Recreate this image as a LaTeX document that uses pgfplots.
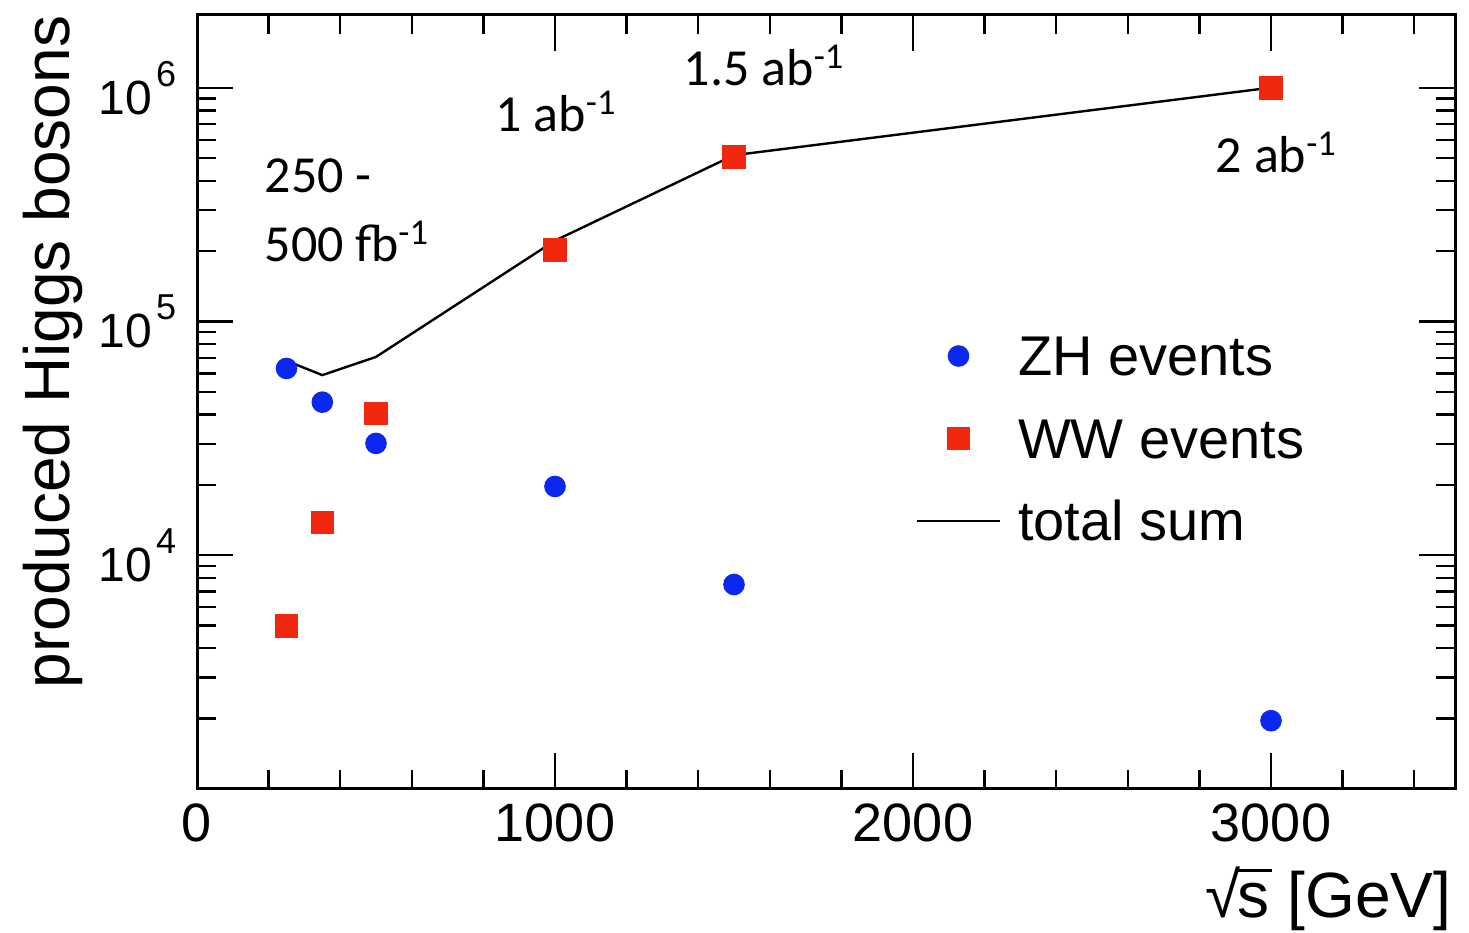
\documentclass[border=0pt]{standalone}
\usepackage{pgfplots}
\pgfplotsset{compat=1.18}
\usepackage{fontspec}
\setmainfont{Liberation Sans}
\newfontfamily\calibri{Carlito}
\definecolor{zhblue}{RGB}{10,40,240}
\definecolor{wwred}{RGB}{240,40,15}
\newcommand\ylab[1]{10\hspace{1bp}\raisebox{7bp}{\fontsize{9bp}{9bp}\selectfont #1}}
\newcommand\ann[1]{{\calibri\fontsize{13bp}{15bp}\selectfont #1}}
\newcommand\rs{\mbox{√\kern-0.6bp\rlap{\rule[11.3bp]{8.6bp}{0.8bp}}s}}
\begin{document}
\begin{tikzpicture}
\useasboundingbox (-49.25bp,-36bp) rectangle (318bp,197.25bp);
\begin{axis}[
  at={(0,0)}, anchor=south west,
  scale only axis, width=314.5bp, height=193.5bp,
  xmin=0, xmax=3514, ymode=log, ymin=1000, ymax=2.05e6,
  axis line style={line width=0.75bp},
  every tick/.style={black, line width=0.6bp},
  major tick length=9bp, minor tick length=4.75bp,
  xtick={0,1000,2000,3000}, xticklabels={0,1000,2000,3000},
  minor xtick={200,400,600,800,1200,1400,1600,1800,2200,2400,2600,2800,3200,3400},
  ytick={1e3,1e4,1e5,1e6}, yticklabels={,\ylab{4},\ylab{5},\ylab{6}},
  minor ytick={2e3,3e3,4e3,5e3,6e3,7e3,8e3,9e3,2e4,3e4,4e4,5e4,6e4,7e4,8e4,9e4,2e5,3e5,4e5,5e5,6e5,7e5,8e5,9e5},
  tick align=inside,
  xticklabel style={inner sep=0pt, yshift=-3.5bp, font=\fontsize{13.5bp}{15bp}\selectfont},
  yticklabel style={inner sep=0pt, xshift=-5bp, font=\fontsize{12bp}{14bp}\selectfont},
  ylabel={produced Higgs bosons},
  ylabel style={at={(rel axis cs:-0.101,1)}, anchor=base east, inner sep=0pt, font=\fontsize{16bp}{18bp}\selectfont},
  xlabel={\rs{} [GeV]},
  xlabel style={at={(rel axis cs:0.9976,-0.1654)}, anchor=base east, inner sep=0pt, font=\fontsize{16bp}{18bp}\selectfont},
  legend cell align=left,
  legend image code/.code={\draw[mark repeat=2,mark phase=2,#1] plot coordinates {(0bp,4.25bp) (10.4bp,4.25bp) (20.75bp,4.25bp)};},
  legend style={draw=none, fill=none, at={(rel axis cs:0.5707,0.5917)}, anchor=north west,
    inner sep=0pt, row sep=0pt, column sep=0pt,
    font=\fontsize{14bp}{16bp}\selectfont,
    nodes={inner sep=0pt, text height=11bp, text depth=9.6bp}},
]
\addplot[only marks, mark=*, mark size=2.5bp, color=zhblue] coordinates {
  (250,6.3e4) (350,4.52e4) (500,3.01e4) (1000,1.97e4) (1500,7.5e3) (3000,1.96e3)};
\addlegendentry{\hspace{4.25bp}ZH events}
\addplot[only marks, mark=square*, mark size=2.75bp, color=wwred] coordinates {
  (250,4.97e3) (350,1.38e4) (500,4.05e4) (1000,2.02e5) (1500,5.07e5) (3000,1.0e6)};
\addlegendentry{\hspace{4.25bp}WW events}
\addplot[black, line width=0.6bp, mark=none] coordinates {
  (250,6.8e4) (350,5.9e4) (500,7.06e4) (1000,2.22e5) (1500,5.15e5) (3000,1.002e6)};
\addlegendentry{\hspace{4.25bp}total sum}
\node[anchor=base west, inner sep=0pt] at (axis cs:187,3.555e5) {\ann{250 -}};
\node[anchor=base west, inner sep=0pt] at (axis cs:187,1.801e5) {\ann{500 fb\textsuperscript{-1}}};
\node[anchor=base west, inner sep=0pt] at (axis cs:832,6.48e5) {\ann{1 ab\textsuperscript{-1}}};
\node[anchor=base west, inner sep=0pt] at (axis cs:1358,1.02e6) {\ann{1.5 ab\textsuperscript{-1}}};
\node[anchor=base west, inner sep=0pt] at (axis cs:2844,4.33e5) {\ann{2 ab\textsuperscript{-1}}};
\end{axis}
\end{tikzpicture}
\end{document}
